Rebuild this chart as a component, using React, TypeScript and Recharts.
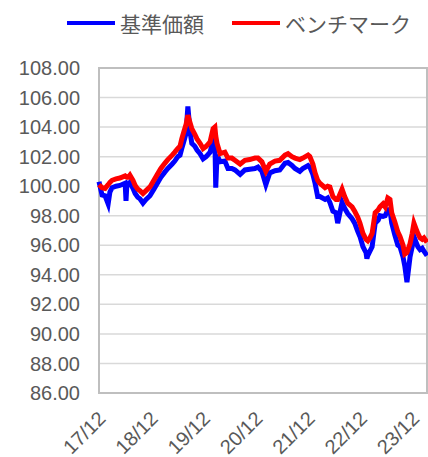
import {
  LineChart,
  Line,
  XAxis,
  YAxis,
  CartesianGrid,
  ReferenceArea,
} from "recharts"

// months since Dec 2017
const T = [
  0, 0.7, 1.4, 2.1, 2.5, 3.0, 3.9, 4.8, 6.0, 6.2, 6.4, 6.7, 7.1, 7.8, 8.3, 8.9, 9.4, 10.1, 10.8, 11.7,
  12.6, 13.5, 14.2, 15.1, 15.8, 16.8, 17.4, 18.1, 18.6, 19.0, 19.5, 20.0, 20.4, 20.9, 21.3, 22.0, 22.5, 23.2, 23.9, 24.6,
  25.5, 26.2, 26.6, 26.8, 27.1, 27.8, 28.9, 29.6, 30.5, 31.2, 32.4, 33.5, 34.6, 35.8, 36.5, 37.4, 38.3, 39.2, 40.4, 41.5,
  42.7, 43.4, 44.3, 45.0, 46.1, 46.8, 48.0, 48.4, 49.1, 49.6, 50.2, 50.7, 51.9, 52.5, 53.0, 53.7, 54.4, 54.8, 55.8, 56.4,
  57.1, 58.1, 58.7, 59.4, 59.9, 60.6, 61.3, 61.5, 61.7, 62.2, 62.7, 63.4, 64.1, 64.5, 65.2, 65.7, 66.3, 66.8, 67.2, 67.9,
  68.6, 69.1, 69.8, 70.2, 70.7, 71.4, 71.9, 72.3, 72.8, 73.2, 73.7, 74.2, 74.6, 75.3,
]

// 基準価額
const NAV = [
  100.3, 99.4, 99.35, 98.8, 99.6, 99.9, 100.0, 100.05, 100.2, 99.0, 100.1, 100.1, 100.25, 99.85, 99.5, 99.25, 99.15, 98.85, 99.1, 99.35,
  99.8, 100.25, 100.6, 100.95, 101.2, 101.5, 101.7, 102.0, 102.1, 102.55, 103.05, 103.6, 105.4, 103.7, 102.9, 102.7, 102.45, 102.2, 101.85, 102.0,
  102.3, 103.1, 103.2, 99.9, 102.1, 101.65, 101.7, 101.2, 101.2, 101.1, 100.8, 101.1, 101.15, 101.2, 101.3, 101.0, 100.1, 100.9, 101.05, 101.1,
  101.55, 101.6, 101.4, 101.2, 101.0, 101.2, 101.4, 101.3, 100.8, 100.2, 99.3, 99.3, 99.1, 99.2, 98.9, 98.3, 98.2, 97.5, 98.9, 98.5,
  98.15, 97.8, 97.5, 96.95, 96.6, 95.9, 95.5, 95.1, 95.3, 95.6, 95.9, 97.5, 97.7, 98.0, 97.95, 98.0, 98.4, 98.4, 97.5, 96.7,
  96.0, 95.9, 95.2, 94.6, 93.5, 95.2, 95.9, 96.6, 96.2, 95.9, 95.7, 95.8, 95.6, 95.3,
]

// ベンチマーク
const BENCH = [
  100.1, 99.9, 99.85, 100.1, 100.25, 100.4, 100.5, 100.55, 100.7, 100.65, 100.6, 100.6, 100.75, 100.4, 100.05, 99.8, 99.7, 99.5, 99.7, 99.95,
  100.4, 100.85, 101.2, 101.55, 101.8, 102.1, 102.3, 102.55, 102.7, 103.2, 103.7, 104.2, 104.8, 104.3, 103.9, 103.5, 103.2, 102.9, 102.55, 102.7,
  103.0, 103.9, 104.0, 103.4, 102.9, 102.2, 102.3, 101.9, 101.9, 101.75, 101.5, 101.75, 101.8, 101.9, 101.9, 101.65, 101.0, 101.5, 101.7, 101.75,
  102.1, 102.2, 102.0, 101.9, 101.8, 101.9, 102.1, 102.0, 101.5, 100.9, 100.4, 100.2, 99.9, 100.0, 99.95, 99.3, 99.1, 99.1, 99.8, 99.3,
  98.85, 98.6, 98.3, 97.9, 97.5, 96.8, 96.4, 96.35, 96.3, 96.5, 96.8, 98.2, 98.4, 98.6, 98.8, 98.6, 99.2, 99.1, 98.2, 97.6,
  96.9, 96.6, 96.0, 95.4, 95.5, 96.1, 96.8, 97.5, 97.1, 96.8, 96.5, 96.4, 96.5, 96.2,
]

const X_TICKS = [0, 12, 24, 36, 48, 60, 72]
const X_LABELS = ["17/12", "18/12", "19/12", "20/12", "21/12", "22/12", "23/12"]
const Y_TICKS = [86, 88, 90, 92, 94, 96, 98, 100, 102, 104, 106, 108]

const FONT = '"Liberation Sans", Arial, "Noto Sans CJK JP", sans-serif'
const TEXT = "#595959"

const rows = T.map((t, i) => ({ t, nav: NAV[i], bench: BENCH[i] }))

function XTick({ x, y, payload }: any) {
  const label = X_LABELS[X_TICKS.indexOf(payload.value)]
  return (
    <g transform={`translate(${x + 3},${y + 14})`}>
      <text
        transform="rotate(-45)"
        textAnchor="end"
        dy="0.35em"
        fill={TEXT}
        fontSize={20}
        fontFamily={FONT}
      >
        {label}
      </text>
    </g>
  )
}

function LegendBox() {
  const item = (left: number, color: string, name: string) => (
    <div
      style={{
        position: "absolute",
        left,
        top: 0,
        display: "flex",
        alignItems: "center",
        height: 46,
      }}
    >
      <span style={{ display: "inline-block", width: 48, height: 4, background: color }} />
      <span style={{ marginLeft: 5, fontSize: 21, color: TEXT, fontFamily: FONT }}>{name}</span>
    </div>
  )
  return (
    <div style={{ position: "absolute", left: 0, top: 0, width: 428, height: 46 }}>
      {item(67, "#0000ff", "基準価額")}
      {item(232, "#ff0000", "ベンチマーク")}
    </div>
  )
}

export default function App() {
  return (
    <div style={{ position: "absolute", left: 0, top: 0, width: 428, height: 457, background: "#fff" }}>
      <LineChart
        width={428}
        height={457}
        data={rows}
        margin={{ top: 68, right: 1, bottom: 0, left: 0 }}
      >
        <CartesianGrid vertical={false} stroke="#d9d9d9" strokeWidth={1.5} />
        <XAxis
          type="number"
          dataKey="t"
          domain={[0, 75.3]}
          ticks={X_TICKS}
          interval={0}
          height={64}
          axisLine={false}
          tickLine={false}
          tick={<XTick />}
        />
        <YAxis
          domain={[86, 108]}
          ticks={Y_TICKS}
          interval={0}
          width={99}
          axisLine={false}
          tickLine={false}
          tickSize={0}
          tickMargin={19}
          tickFormatter={(v: number) => v.toFixed(2)}
          tick={{ fill: TEXT, fontSize: 20, fontFamily: FONT }}
        />
        <ReferenceArea x1={0} x2={75.3} y1={86} y2={108} fill="none" stroke="#bfbfbf" strokeWidth={2} />
        <Line
          dataKey="nav"
          name="基準価額"
          stroke="#0000ff"
          strokeWidth={5}
          dot={false}
          isAnimationActive={false}
        />
        <Line
          dataKey="bench"
          name="ベンチマーク"
          stroke="#ff0000"
          strokeWidth={5}
          dot={false}
          isAnimationActive={false}
        />
      </LineChart>
      <LegendBox />
    </div>
  )
}
